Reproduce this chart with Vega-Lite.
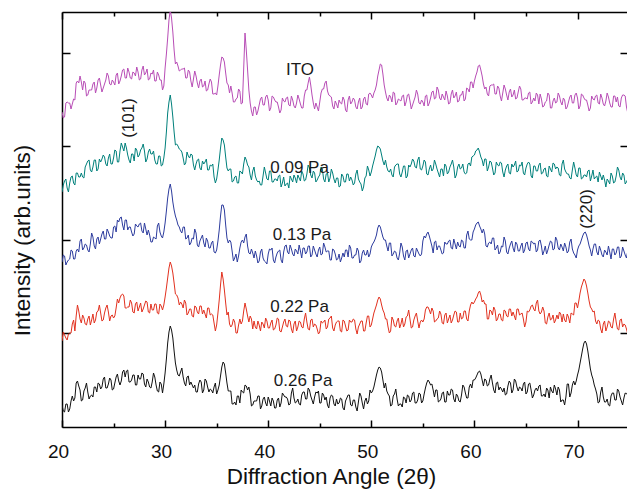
{
"$schema": "https://vega.github.io/schema/vega-lite/v6.json",
"width": 565, "height": 415,
"autosize": {"type": "none"},
"padding": {"left": 62, "top": 12, "right": 0, "bottom": 63},
"config": {"view": {"stroke": null}, "font": "Liberation Sans"},
"datasets": {
"xrd": [
{"x":20,"ITO":316,"p09":236,"p13":166,"p22":87,"p26":23},
{"x":20.125,"ITO":310,"p09":243,"p13":173,"p22":96,"p26":17},
{"x":20.25,"ITO":311,"p09":247,"p13":172,"p22":93,"p26":16},
{"x":20.375,"ITO":325,"p09":249,"p13":163,"p22":90,"p26":24},
{"x":20.5,"ITO":326,"p09":240,"p13":166,"p22":88,"p26":24},
{"x":20.625,"ITO":325,"p09":236,"p13":168,"p22":94,"p26":16},
{"x":20.75,"ITO":325,"p09":245,"p13":169,"p22":95,"p26":19},
{"x":20.875,"ITO":319,"p09":251,"p13":178,"p22":95,"p26":27},
{"x":21,"ITO":324,"p09":252,"p13":177,"p22":104,"p26":32},
{"x":21.125,"ITO":329,"p09":245,"p13":169,"p22":108,"p26":27},
{"x":21.25,"ITO":328,"p09":243,"p13":169,"p22":97,"p26":30},
{"x":21.375,"ITO":345,"p09":255,"p13":177,"p22":112,"p26":45},
{"x":21.5,"ITO":347,"p09":255,"p13":179,"p22":123,"p26":47},
{"x":21.625,"ITO":345,"p09":251,"p13":176,"p22":117,"p26":42},
{"x":21.75,"ITO":352,"p09":251,"p13":187,"p22":109,"p26":38},
{"x":21.875,"ITO":346,"p09":255,"p13":189,"p22":105,"p26":27},
{"x":22,"ITO":338,"p09":251,"p13":178,"p22":113,"p26":28},
{"x":22.125,"ITO":347,"p09":250,"p13":180,"p22":110,"p26":37},
{"x":22.25,"ITO":345,"p09":261,"p13":184,"p22":104,"p26":40},
{"x":22.375,"ITO":332,"p09":264,"p13":183,"p22":103,"p26":45},
{"x":22.5,"ITO":333,"p09":267,"p13":178,"p22":109,"p26":36},
{"x":22.625,"ITO":338,"p09":268,"p13":176,"p22":112,"p26":29},
{"x":22.75,"ITO":338,"p09":258,"p13":184,"p22":103,"p26":32},
{"x":22.875,"ITO":338,"p09":256,"p13":195,"p22":108,"p26":33},
{"x":23,"ITO":344,"p09":261,"p13":191,"p22":114,"p26":31},
{"x":23.125,"ITO":346,"p09":268,"p13":182,"p22":105,"p26":41},
{"x":23.25,"ITO":335,"p09":268,"p13":179,"p22":108,"p26":41},
{"x":23.375,"ITO":340,"p09":257,"p13":189,"p22":116,"p26":36},
{"x":23.5,"ITO":348,"p09":259,"p13":191,"p22":117,"p26":45},
{"x":23.625,"ITO":350,"p09":269,"p13":184,"p22":123,"p26":44},
{"x":23.75,"ITO":343,"p09":266,"p13":189,"p22":115,"p26":39},
{"x":23.875,"ITO":336,"p09":269,"p13":194,"p22":107,"p26":41},
{"x":24,"ITO":340,"p09":273,"p13":197,"p22":108,"p26":49},
{"x":24.125,"ITO":344,"p09":271,"p13":189,"p22":115,"p26":51},
{"x":24.25,"ITO":348,"p09":264,"p13":189,"p22":120,"p26":40},
{"x":24.375,"ITO":355,"p09":262,"p13":199,"p22":123,"p26":40},
{"x":24.5,"ITO":352,"p09":270,"p13":196,"p22":116,"p26":44},
{"x":24.625,"ITO":344,"p09":274,"p13":192,"p22":107,"p26":50},
{"x":24.75,"ITO":343,"p09":264,"p13":190,"p22":112,"p26":48},
{"x":24.875,"ITO":348,"p09":264,"p13":190,"p22":113,"p26":38},
{"x":25,"ITO":346,"p09":270,"p13":201,"p22":110,"p26":39},
{"x":25.125,"ITO":343,"p09":278,"p13":202,"p22":112,"p26":45},
{"x":25.25,"ITO":353,"p09":277,"p13":196,"p22":120,"p26":51},
{"x":25.375,"ITO":355,"p09":266,"p13":208,"p22":129,"p26":54},
{"x":25.5,"ITO":344,"p09":266,"p13":206,"p22":125,"p26":47},
{"x":25.625,"ITO":347,"p09":277,"p13":210,"p22":130,"p26":43},
{"x":25.75,"ITO":352,"p09":285,"p13":211,"p22":133,"p26":47},
{"x":25.875,"ITO":358,"p09":281,"p13":203,"p22":134,"p26":56},
{"x":26,"ITO":359,"p09":277,"p13":198,"p22":132,"p26":58},
{"x":26.125,"ITO":350,"p09":285,"p13":208,"p22":120,"p26":51},
{"x":26.25,"ITO":350,"p09":280,"p13":208,"p22":120,"p26":57},
{"x":26.375,"ITO":360,"p09":273,"p13":198,"p22":121,"p26":58},
{"x":26.5,"ITO":356,"p09":268,"p13":201,"p22":121,"p26":46},
{"x":26.625,"ITO":350,"p09":265,"p13":201,"p22":128,"p26":46},
{"x":26.75,"ITO":349,"p09":274,"p13":196,"p22":125,"p26":48},
{"x":26.875,"ITO":356,"p09":274,"p13":192,"p22":116,"p26":53},
{"x":27,"ITO":355,"p09":267,"p13":194,"p22":115,"p26":53},
{"x":27.125,"ITO":352,"p09":280,"p13":204,"p22":124,"p26":43},
{"x":27.25,"ITO":361,"p09":278,"p13":202,"p22":126,"p26":43},
{"x":27.375,"ITO":356,"p09":271,"p13":201,"p22":117,"p26":53},
{"x":27.5,"ITO":348,"p09":273,"p13":204,"p22":121,"p26":49},
{"x":27.625,"ITO":349,"p09":278,"p13":205,"p22":125,"p26":49},
{"x":27.75,"ITO":358,"p09":280,"p13":197,"p22":116,"p26":55},
{"x":27.875,"ITO":362,"p09":284,"p13":195,"p22":119,"p26":54},
{"x":28,"ITO":353,"p09":277,"p13":205,"p22":123,"p26":44},
{"x":28.125,"ITO":355,"p09":266,"p13":199,"p22":127,"p26":41},
{"x":28.25,"ITO":359,"p09":269,"p13":193,"p22":126,"p26":49},
{"x":28.375,"ITO":348,"p09":276,"p13":198,"p22":116,"p26":46},
{"x":28.5,"ITO":349,"p09":279,"p13":193,"p22":115,"p26":41},
{"x":28.625,"ITO":355,"p09":274,"p13":186,"p22":124,"p26":40},
{"x":28.75,"ITO":354,"p09":274,"p13":186,"p22":118,"p26":46},
{"x":28.875,"ITO":358,"p09":277,"p13":191,"p22":118,"p26":55},
{"x":29,"ITO":347,"p09":268,"p13":190,"p22":124,"p26":51},
{"x":29.125,"ITO":347,"p09":264,"p13":189,"p22":124,"p26":43},
{"x":29.25,"ITO":356,"p09":264,"p13":202,"p22":115,"p26":37},
{"x":29.375,"ITO":353,"p09":272,"p13":205,"p22":114,"p26":36},
{"x":29.5,"ITO":348,"p09":272,"p13":196,"p22":124,"p26":46},
{"x":29.625,"ITO":348,"p09":262,"p13":192,"p22":122,"p26":44},
{"x":29.75,"ITO":338,"p09":263,"p13":190,"p22":118,"p26":35},
{"x":29.875,"ITO":342,"p09":270,"p13":196,"p22":123,"p26":44},
{"x":30,"ITO":360,"p09":280,"p13":205,"p22":131,"p26":55},
{"x":30.125,"ITO":374,"p09":296,"p13":217,"p22":140,"p26":69},
{"x":30.25,"ITO":390,"p09":315,"p13":230,"p22":150,"p26":85},
{"x":30.375,"ITO":408,"p09":326,"p13":239,"p22":160,"p26":96},
{"x":30.5,"ITO":418,"p09":333,"p13":244,"p22":166,"p26":102},
{"x":30.625,"ITO":410,"p09":324,"p13":237,"p22":162,"p26":98},
{"x":30.75,"ITO":396,"p09":311,"p13":226,"p22":155,"p26":90},
{"x":30.875,"ITO":378,"p09":296,"p13":218,"p22":145,"p26":77},
{"x":31,"ITO":364,"p09":283,"p13":212,"p22":134,"p26":65},
{"x":31.125,"ITO":366,"p09":284,"p13":208,"p22":133,"p26":58},
{"x":31.25,"ITO":362,"p09":282,"p13":203,"p22":130,"p26":53},
{"x":31.375,"ITO":357,"p09":279,"p13":201,"p22":123,"p26":52},
{"x":31.5,"ITO":358,"p09":278,"p13":197,"p22":126,"p26":56},
{"x":31.625,"ITO":359,"p09":276,"p13":195,"p22":124,"p26":60},
{"x":31.75,"ITO":359,"p09":270,"p13":201,"p22":120,"p26":51},
{"x":31.875,"ITO":360,"p09":263,"p13":201,"p22":128,"p26":45},
{"x":32,"ITO":350,"p09":265,"p13":189,"p22":125,"p26":42},
{"x":32.125,"ITO":350,"p09":276,"p13":190,"p22":113,"p26":51},
{"x":32.25,"ITO":358,"p09":272,"p13":193,"p22":115,"p26":52},
{"x":32.375,"ITO":356,"p09":270,"p13":183,"p22":119,"p26":43},
{"x":32.5,"ITO":347,"p09":274,"p13":185,"p22":119,"p26":46},
{"x":32.625,"ITO":341,"p09":273,"p13":190,"p22":112,"p26":43},
{"x":32.75,"ITO":349,"p09":263,"p13":189,"p22":111,"p26":40},
{"x":32.875,"ITO":357,"p09":258,"p13":199,"p22":122,"p26":43},
{"x":33,"ITO":352,"p09":264,"p13":195,"p22":121,"p26":36},
{"x":33.125,"ITO":345,"p09":268,"p13":183,"p22":116,"p26":36},
{"x":33.25,"ITO":340,"p09":269,"p13":181,"p22":114,"p26":44},
{"x":33.375,"ITO":347,"p09":260,"p13":187,"p22":122,"p26":48},
{"x":33.5,"ITO":349,"p09":258,"p13":190,"p22":122,"p26":46},
{"x":33.625,"ITO":341,"p09":267,"p13":193,"p22":114,"p26":35},
{"x":33.75,"ITO":342,"p09":264,"p13":185,"p22":118,"p26":38},
{"x":33.875,"ITO":347,"p09":266,"p13":181,"p22":114,"p26":49},
{"x":34,"ITO":337,"p09":269,"p13":190,"p22":110,"p26":47},
{"x":34.125,"ITO":338,"p09":258,"p13":187,"p22":120,"p26":41},
{"x":34.25,"ITO":344,"p09":258,"p13":180,"p22":120,"p26":36},
{"x":34.375,"ITO":349,"p09":263,"p13":180,"p22":113,"p26":39},
{"x":34.5,"ITO":346,"p09":262,"p13":185,"p22":114,"p26":38},
{"x":34.625,"ITO":334,"p09":264,"p13":187,"p22":113,"p26":35},
{"x":34.75,"ITO":334,"p09":251,"p13":176,"p22":105,"p26":41},
{"x":34.875,"ITO":335,"p09":245,"p13":175,"p22":97,"p26":45},
{"x":35,"ITO":333,"p09":249,"p13":178,"p22":103,"p26":34},
{"x":35.125,"ITO":342,"p09":258,"p13":187,"p22":115,"p26":38},
{"x":35.25,"ITO":353,"p09":268,"p13":198,"p22":128,"p26":43},
{"x":35.375,"ITO":363,"p09":280,"p13":212,"p22":143,"p26":52},
{"x":35.5,"ITO":371,"p09":290,"p13":223,"p22":156,"p26":61},
{"x":35.625,"ITO":370,"p09":288,"p13":223,"p22":149,"p26":66},
{"x":35.75,"ITO":366,"p09":283,"p13":218,"p22":138,"p26":64},
{"x":35.875,"ITO":355,"p09":271,"p13":203,"p22":125,"p26":55},
{"x":36,"ITO":345,"p09":260,"p13":190,"p22":113,"p26":45},
{"x":36.125,"ITO":343,"p09":257,"p13":185,"p22":116,"p26":37},
{"x":36.25,"ITO":335,"p09":259,"p13":188,"p22":104,"p26":37},
{"x":36.375,"ITO":342,"p09":259,"p13":186,"p22":101,"p26":37},
{"x":36.5,"ITO":335,"p09":246,"p13":177,"p22":103,"p26":24},
{"x":36.625,"ITO":326,"p09":247,"p13":167,"p22":109,"p26":24},
{"x":36.75,"ITO":326,"p09":251,"p13":170,"p22":106,"p26":26},
{"x":36.875,"ITO":329,"p09":252,"p13":174,"p22":95,"p26":23},
{"x":37,"ITO":330,"p09":245,"p13":166,"p22":95,"p26":32},
{"x":37.125,"ITO":339,"p09":245,"p13":172,"p22":103,"p26":32},
{"x":37.25,"ITO":337,"p09":257,"p13":180,"p22":109,"p26":25},
{"x":37.375,"ITO":324,"p09":256,"p13":186,"p22":104,"p26":38},
{"x":37.5,"ITO":325,"p09":254,"p13":188,"p22":107,"p26":36},
{"x":37.625,"ITO":360,"p09":264,"p13":185,"p22":117,"p26":35},
{"x":37.75,"ITO":395,"p09":271,"p13":191,"p22":125,"p26":43},
{"x":37.875,"ITO":378,"p09":268,"p13":194,"p22":119,"p26":42},
{"x":38,"ITO":358,"p09":263,"p13":182,"p22":112,"p26":38},
{"x":38.125,"ITO":338,"p09":261,"p13":175,"p22":106,"p26":41},
{"x":38.25,"ITO":325,"p09":253,"p13":174,"p22":112,"p26":34},
{"x":38.375,"ITO":317,"p09":248,"p13":179,"p22":109,"p26":22},
{"x":38.5,"ITO":312,"p09":257,"p13":175,"p22":99,"p26":23},
{"x":38.625,"ITO":321,"p09":261,"p13":170,"p22":107,"p26":27},
{"x":38.75,"ITO":321,"p09":252,"p13":177,"p22":101,"p26":27},
{"x":38.875,"ITO":313,"p09":248,"p13":172,"p22":99,"p26":27},
{"x":39,"ITO":317,"p09":246,"p13":165,"p22":107,"p26":32},
{"x":39.125,"ITO":323,"p09":247,"p13":167,"p22":103,"p26":32},
{"x":39.25,"ITO":329,"p09":243,"p13":176,"p22":97,"p26":19},
{"x":39.375,"ITO":331,"p09":243,"p13":179,"p22":106,"p26":22},
{"x":39.5,"ITO":323,"p09":252,"p13":170,"p22":104,"p26":29},
{"x":39.625,"ITO":323,"p09":261,"p13":167,"p22":100,"p26":31},
{"x":39.75,"ITO":331,"p09":255,"p13":166,"p22":110,"p26":25},
{"x":39.875,"ITO":333,"p09":249,"p13":164,"p22":107,"p26":22},
{"x":40,"ITO":328,"p09":248,"p13":174,"p22":100,"p26":31},
{"x":40.125,"ITO":317,"p09":257,"p13":179,"p22":100,"p26":27},
{"x":40.25,"ITO":320,"p09":257,"p13":178,"p22":105,"p26":22},
{"x":40.375,"ITO":332,"p09":246,"p13":180,"p22":108,"p26":30},
{"x":40.5,"ITO":331,"p09":246,"p13":168,"p22":98,"p26":27},
{"x":40.625,"ITO":328,"p09":249,"p13":165,"p22":99,"p26":20},
{"x":40.75,"ITO":326,"p09":249,"p13":171,"p22":103,"p26":20},
{"x":40.875,"ITO":326,"p09":247,"p13":175,"p22":110,"p26":28},
{"x":41,"ITO":321,"p09":252,"p13":177,"p22":109,"p26":30},
{"x":41.125,"ITO":315,"p09":253,"p13":178,"p22":97,"p26":21},
{"x":41.25,"ITO":318,"p09":241,"p13":168,"p22":96,"p26":25},
{"x":41.375,"ITO":330,"p09":245,"p13":165,"p22":101,"p26":35},
{"x":41.5,"ITO":327,"p09":251,"p13":176,"p22":106,"p26":33},
{"x":41.625,"ITO":326,"p09":242,"p13":182,"p22":109,"p26":31},
{"x":41.75,"ITO":330,"p09":244,"p13":183,"p22":102,"p26":31},
{"x":41.875,"ITO":331,"p09":245,"p13":176,"p22":101,"p26":29},
{"x":42,"ITO":323,"p09":240,"p13":174,"p22":108,"p26":23},
{"x":42.125,"ITO":322,"p09":252,"p13":183,"p22":107,"p26":24},
{"x":42.25,"ITO":332,"p09":249,"p13":179,"p22":99,"p26":35},
{"x":42.375,"ITO":328,"p09":246,"p13":174,"p22":95,"p26":40},
{"x":42.5,"ITO":322,"p09":253,"p13":172,"p22":104,"p26":30},
{"x":42.625,"ITO":320,"p09":250,"p13":179,"p22":107,"p26":25},
{"x":42.75,"ITO":325,"p09":245,"p13":177,"p22":97,"p26":26},
{"x":42.875,"ITO":333,"p09":253,"p13":174,"p22":101,"p26":29},
{"x":43,"ITO":329,"p09":250,"p13":183,"p22":107,"p26":24},
{"x":43.125,"ITO":324,"p09":247,"p13":177,"p22":106,"p26":23},
{"x":43.25,"ITO":320,"p09":257,"p13":170,"p22":101,"p26":33},
{"x":43.375,"ITO":320,"p09":254,"p13":180,"p22":100,"p26":36},
{"x":43.5,"ITO":332,"p09":247,"p13":180,"p22":109,"p26":36},
{"x":43.625,"ITO":338,"p09":248,"p13":174,"p22":115,"p26":29},
{"x":43.75,"ITO":338,"p09":254,"p13":176,"p22":106,"p26":29},
{"x":43.875,"ITO":345,"p09":263,"p13":182,"p22":99,"p26":40},
{"x":44,"ITO":351,"p09":260,"p13":182,"p22":98,"p26":38},
{"x":44.125,"ITO":343,"p09":253,"p13":171,"p22":108,"p26":32},
{"x":44.25,"ITO":333,"p09":250,"p13":173,"p22":109,"p26":28},
{"x":44.375,"ITO":325,"p09":257,"p13":182,"p22":101,"p26":24},
{"x":44.5,"ITO":319,"p09":255,"p13":178,"p22":104,"p26":31},
{"x":44.625,"ITO":325,"p09":246,"p13":174,"p22":103,"p26":36},
{"x":44.75,"ITO":321,"p09":248,"p13":171,"p22":99,"p26":35},
{"x":44.875,"ITO":317,"p09":251,"p13":178,"p22":94,"p26":37},
{"x":45,"ITO":326,"p09":253,"p13":181,"p22":96,"p26":25},
{"x":45.125,"ITO":335,"p09":261,"p13":173,"p22":107,"p26":25},
{"x":45.25,"ITO":339,"p09":259,"p13":174,"p22":105,"p26":35},
{"x":45.375,"ITO":339,"p09":249,"p13":185,"p22":106,"p26":33},
{"x":45.5,"ITO":345,"p09":246,"p13":181,"p22":108,"p26":28},
{"x":45.625,"ITO":347,"p09":254,"p13":176,"p22":99,"p26":31},
{"x":45.75,"ITO":337,"p09":255,"p13":177,"p22":101,"p26":23},
{"x":45.875,"ITO":333,"p09":246,"p13":177,"p22":109,"p26":20},
{"x":46,"ITO":332,"p09":250,"p13":168,"p22":110,"p26":30},
{"x":46.125,"ITO":331,"p09":259,"p13":168,"p22":112,"p26":33},
{"x":46.25,"ITO":322,"p09":255,"p13":179,"p22":100,"p26":32},
{"x":46.375,"ITO":319,"p09":249,"p13":178,"p22":97,"p26":24},
{"x":46.5,"ITO":327,"p09":245,"p13":174,"p22":103,"p26":22},
{"x":46.625,"ITO":324,"p09":250,"p13":168,"p22":106,"p26":29},
{"x":46.75,"ITO":320,"p09":250,"p13":169,"p22":107,"p26":24},
{"x":46.875,"ITO":328,"p09":241,"p13":174,"p22":107,"p26":25},
{"x":47,"ITO":325,"p09":242,"p13":166,"p22":97,"p26":30},
{"x":47.125,"ITO":324,"p09":254,"p13":170,"p22":96,"p26":29},
{"x":47.25,"ITO":331,"p09":252,"p13":175,"p22":108,"p26":20},
{"x":47.375,"ITO":328,"p09":246,"p13":171,"p22":107,"p26":18},
{"x":47.5,"ITO":318,"p09":246,"p13":178,"p22":102,"p26":27},
{"x":47.625,"ITO":316,"p09":254,"p13":178,"p22":97,"p26":30},
{"x":47.75,"ITO":328,"p09":254,"p13":171,"p22":98,"p26":33},
{"x":47.875,"ITO":332,"p09":247,"p13":183,"p22":108,"p26":33},
{"x":48,"ITO":324,"p09":251,"p13":180,"p22":106,"p26":23},
{"x":48.125,"ITO":326,"p09":248,"p13":170,"p22":106,"p26":22},
{"x":48.25,"ITO":330,"p09":243,"p13":170,"p22":109,"p26":28},
{"x":48.375,"ITO":328,"p09":245,"p13":173,"p22":108,"p26":28},
{"x":48.5,"ITO":321,"p09":254,"p13":173,"p22":99,"p26":21},
{"x":48.625,"ITO":319,"p09":258,"p13":180,"p22":94,"p26":17},
{"x":48.75,"ITO":326,"p09":249,"p13":177,"p22":101,"p26":26},
{"x":48.875,"ITO":330,"p09":246,"p13":165,"p22":104,"p26":35},
{"x":49,"ITO":319,"p09":244,"p13":167,"p22":107,"p26":32},
{"x":49.125,"ITO":321,"p09":237,"p13":175,"p22":107,"p26":25},
{"x":49.25,"ITO":329,"p09":241,"p13":178,"p22":97,"p26":19},
{"x":49.375,"ITO":331,"p09":250,"p13":173,"p22":97,"p26":27},
{"x":49.5,"ITO":324,"p09":252,"p13":173,"p22":105,"p26":30},
{"x":49.625,"ITO":323,"p09":262,"p13":178,"p22":112,"p26":24},
{"x":49.75,"ITO":334,"p09":258,"p13":171,"p22":112,"p26":27},
{"x":49.875,"ITO":335,"p09":252,"p13":174,"p22":101,"p26":38},
{"x":50,"ITO":333,"p09":256,"p13":181,"p22":103,"p26":35},
{"x":50.125,"ITO":330,"p09":262,"p13":184,"p22":109,"p26":37},
{"x":50.25,"ITO":335,"p09":267,"p13":186,"p22":115,"p26":41},
{"x":50.375,"ITO":338,"p09":272,"p13":189,"p22":119,"p26":47},
{"x":50.5,"ITO":343,"p09":278,"p13":193,"p22":123,"p26":53},
{"x":50.625,"ITO":352,"p09":282,"p13":200,"p22":128,"p26":58},
{"x":50.75,"ITO":358,"p09":281,"p13":203,"p22":131,"p26":61},
{"x":50.875,"ITO":364,"p09":279,"p13":201,"p22":129,"p26":60},
{"x":51,"ITO":363,"p09":273,"p13":196,"p22":123,"p26":56},
{"x":51.125,"ITO":354,"p09":267,"p13":191,"p22":118,"p26":48},
{"x":51.25,"ITO":343,"p09":263,"p13":188,"p22":115,"p26":40},
{"x":51.375,"ITO":336,"p09":268,"p13":188,"p22":109,"p26":45},
{"x":51.5,"ITO":330,"p09":261,"p13":182,"p22":109,"p26":37},
{"x":51.625,"ITO":327,"p09":257,"p13":177,"p22":101,"p26":34},
{"x":51.75,"ITO":333,"p09":256,"p13":185,"p22":95,"p26":32},
{"x":51.875,"ITO":331,"p09":259,"p13":185,"p22":97,"p26":22},
{"x":52,"ITO":326,"p09":253,"p13":172,"p22":111,"p26":23},
{"x":52.125,"ITO":336,"p09":251,"p13":174,"p22":108,"p26":32},
{"x":52.25,"ITO":335,"p09":261,"p13":177,"p22":102,"p26":34},
{"x":52.375,"ITO":323,"p09":263,"p13":176,"p22":101,"p26":39},
{"x":52.5,"ITO":325,"p09":264,"p13":170,"p22":107,"p26":29},
{"x":52.625,"ITO":329,"p09":264,"p13":168,"p22":110,"p26":22},
{"x":52.75,"ITO":328,"p09":254,"p13":175,"p22":100,"p26":24},
{"x":52.875,"ITO":327,"p09":251,"p13":185,"p22":104,"p26":24},
{"x":53,"ITO":332,"p09":256,"p13":181,"p22":110,"p26":21},
{"x":53.125,"ITO":333,"p09":262,"p13":172,"p22":101,"p26":31},
{"x":53.25,"ITO":322,"p09":262,"p13":168,"p22":104,"p26":30},
{"x":53.375,"ITO":326,"p09":250,"p13":177,"p22":111,"p26":25},
{"x":53.5,"ITO":333,"p09":252,"p13":178,"p22":112,"p26":33},
{"x":53.625,"ITO":334,"p09":263,"p13":170,"p22":118,"p26":32},
{"x":53.75,"ITO":327,"p09":261,"p13":174,"p22":109,"p26":26},
{"x":53.875,"ITO":319,"p09":264,"p13":178,"p22":100,"p26":28},
{"x":54,"ITO":323,"p09":269,"p13":180,"p22":101,"p26":35},
{"x":54.125,"ITO":327,"p09":267,"p13":172,"p22":108,"p26":36},
{"x":54.25,"ITO":331,"p09":261,"p13":171,"p22":112,"p26":25},
{"x":54.375,"ITO":338,"p09":260,"p13":180,"p22":115,"p26":25},
{"x":54.5,"ITO":334,"p09":268,"p13":177,"p22":107,"p26":28},
{"x":54.625,"ITO":325,"p09":271,"p13":174,"p22":100,"p26":35},
{"x":54.75,"ITO":324,"p09":259,"p13":172,"p22":106,"p26":34},
{"x":54.875,"ITO":328,"p09":258,"p13":174,"p22":108,"p26":25},
{"x":55,"ITO":326,"p09":262,"p13":187,"p22":106,"p26":27},
{"x":55.125,"ITO":322,"p09":268,"p13":192,"p22":109,"p26":34},
{"x":55.25,"ITO":332,"p09":266,"p13":190,"p22":118,"p26":40},
{"x":55.375,"ITO":333,"p09":254,"p13":194,"p22":121,"p26":45},
{"x":55.5,"ITO":322,"p09":253,"p13":196,"p22":121,"p26":48},
{"x":55.625,"ITO":325,"p09":259,"p13":192,"p22":118,"p26":46},
{"x":55.75,"ITO":330,"p09":263,"p13":187,"p22":114,"p26":43},
{"x":55.875,"ITO":336,"p09":257,"p13":182,"p22":120,"p26":44},
{"x":56,"ITO":337,"p09":259,"p13":175,"p22":117,"p26":38},
{"x":56.125,"ITO":329,"p09":268,"p13":186,"p22":106,"p26":31},
{"x":56.25,"ITO":330,"p09":264,"p13":187,"p22":107,"p26":38},
{"x":56.375,"ITO":341,"p09":259,"p13":178,"p22":109,"p26":38},
{"x":56.5,"ITO":338,"p09":255,"p13":182,"p22":110,"p26":26},
{"x":56.625,"ITO":330,"p09":251,"p13":182,"p22":117,"p26":27},
{"x":56.75,"ITO":328,"p09":259,"p13":178,"p22":114,"p26":29},
{"x":56.875,"ITO":334,"p09":259,"p13":174,"p22":105,"p26":35},
{"x":57,"ITO":331,"p09":252,"p13":175,"p22":104,"p26":36},
{"x":57.125,"ITO":328,"p09":264,"p13":186,"p22":113,"p26":26},
{"x":57.25,"ITO":337,"p09":262,"p13":184,"p22":115,"p26":26},
{"x":57.375,"ITO":332,"p09":254,"p13":184,"p22":105,"p26":37},
{"x":57.5,"ITO":324,"p09":256,"p13":187,"p22":109,"p26":33},
{"x":57.625,"ITO":325,"p09":261,"p13":188,"p22":113,"p26":33},
{"x":57.75,"ITO":334,"p09":264,"p13":180,"p22":105,"p26":39},
{"x":57.875,"ITO":338,"p09":268,"p13":179,"p22":108,"p26":38},
{"x":58,"ITO":330,"p09":261,"p13":189,"p22":113,"p26":29},
{"x":58.125,"ITO":332,"p09":250,"p13":184,"p22":117,"p26":26},
{"x":58.25,"ITO":336,"p09":253,"p13":179,"p22":116,"p26":34},
{"x":58.375,"ITO":326,"p09":261,"p13":186,"p22":106,"p26":32},
{"x":58.5,"ITO":327,"p09":264,"p13":182,"p22":106,"p26":27},
{"x":58.625,"ITO":333,"p09":259,"p13":181,"p22":115,"p26":26},
{"x":58.75,"ITO":333,"p09":260,"p13":188,"p22":109,"p26":33},
{"x":58.875,"ITO":337,"p09":264,"p13":187,"p22":110,"p26":43},
{"x":59,"ITO":327,"p09":256,"p13":180,"p22":117,"p26":41},
{"x":59.125,"ITO":329,"p09":254,"p13":180,"p22":117,"p26":35},
{"x":59.25,"ITO":340,"p09":255,"p13":193,"p22":109,"p26":30},
{"x":59.375,"ITO":339,"p09":264,"p13":197,"p22":107,"p26":30},
{"x":59.5,"ITO":336,"p09":265,"p13":189,"p22":117,"p26":41},
{"x":59.625,"ITO":346,"p09":262,"p13":188,"p22":123,"p26":44},
{"x":59.75,"ITO":346,"p09":271,"p13":188,"p22":126,"p26":40},
{"x":59.875,"ITO":340,"p09":272,"p13":196,"p22":124,"p26":48},
{"x":60,"ITO":347,"p09":273,"p13":199,"p22":126,"p26":48},
{"x":60.125,"ITO":352,"p09":277,"p13":203,"p22":129,"p26":50},
{"x":60.25,"ITO":356,"p09":278,"p13":205,"p22":131,"p26":53},
{"x":60.375,"ITO":362,"p09":280,"p13":206,"p22":135,"p26":56},
{"x":60.5,"ITO":363,"p09":276,"p13":202,"p22":137,"p26":57},
{"x":60.625,"ITO":358,"p09":271,"p13":199,"p22":133,"p26":54},
{"x":60.75,"ITO":352,"p09":268,"p13":195,"p22":126,"p26":48},
{"x":60.875,"ITO":344,"p09":262,"p13":199,"p22":128,"p26":42},
{"x":61,"ITO":339,"p09":269,"p13":194,"p22":124,"p26":49},
{"x":61.125,"ITO":341,"p09":269,"p13":182,"p22":124,"p26":48},
{"x":61.25,"ITO":334,"p09":257,"p13":181,"p22":109,"p26":42},
{"x":61.375,"ITO":332,"p09":261,"p13":185,"p22":109,"p26":43},
{"x":61.5,"ITO":342,"p09":267,"p13":186,"p22":118,"p26":49},
{"x":61.625,"ITO":343,"p09":266,"p13":184,"p22":117,"p26":53},
{"x":61.75,"ITO":343,"p09":260,"p13":190,"p22":113,"p26":45},
{"x":61.875,"ITO":344,"p09":253,"p13":190,"p22":121,"p26":38},
{"x":62,"ITO":334,"p09":255,"p13":178,"p22":118,"p26":35},
{"x":62.125,"ITO":334,"p09":266,"p13":180,"p22":107,"p26":45},
{"x":62.25,"ITO":342,"p09":263,"p13":183,"p22":109,"p26":46},
{"x":62.375,"ITO":340,"p09":262,"p13":174,"p22":114,"p26":38},
{"x":62.5,"ITO":332,"p09":266,"p13":176,"p22":114,"p26":41},
{"x":62.625,"ITO":327,"p09":265,"p13":182,"p22":108,"p26":39},
{"x":62.75,"ITO":335,"p09":256,"p13":181,"p22":107,"p26":36},
{"x":62.875,"ITO":343,"p09":251,"p13":191,"p22":118,"p26":40},
{"x":63,"ITO":339,"p09":258,"p13":187,"p22":117,"p26":33},
{"x":63.125,"ITO":333,"p09":262,"p13":176,"p22":112,"p26":34},
{"x":63.25,"ITO":328,"p09":264,"p13":174,"p22":111,"p26":42},
{"x":63.375,"ITO":336,"p09":255,"p13":180,"p22":119,"p26":47},
{"x":63.5,"ITO":339,"p09":254,"p13":184,"p22":119,"p26":45},
{"x":63.625,"ITO":331,"p09":264,"p13":187,"p22":112,"p26":35},
{"x":63.75,"ITO":333,"p09":261,"p13":180,"p22":116,"p26":38},
{"x":63.875,"ITO":338,"p09":263,"p13":176,"p22":112,"p26":49},
{"x":64,"ITO":329,"p09":267,"p13":186,"p22":108,"p26":47},
{"x":64.125,"ITO":330,"p09":256,"p13":184,"p22":119,"p26":41},
{"x":64.25,"ITO":336,"p09":257,"p13":177,"p22":119,"p26":37},
{"x":64.375,"ITO":342,"p09":263,"p13":177,"p22":113,"p26":41},
{"x":64.5,"ITO":339,"p09":262,"p13":182,"p22":114,"p26":40},
{"x":64.625,"ITO":328,"p09":266,"p13":185,"p22":115,"p26":37},
{"x":64.75,"ITO":328,"p09":255,"p13":175,"p22":109,"p26":44},
{"x":64.875,"ITO":330,"p09":253,"p13":178,"p22":101,"p26":46},
{"x":65,"ITO":330,"p09":260,"p13":185,"p22":106,"p26":34},
{"x":65.125,"ITO":329,"p09":264,"p13":186,"p22":117,"p26":36},
{"x":65.25,"ITO":335,"p09":266,"p13":179,"p22":116,"p26":44},
{"x":65.375,"ITO":336,"p09":264,"p13":177,"p22":118,"p26":45},
{"x":65.5,"ITO":324,"p09":252,"p13":187,"p22":122,"p26":38},
{"x":65.625,"ITO":326,"p09":250,"p13":186,"p22":123,"p26":30},
{"x":65.75,"ITO":330,"p09":262,"p13":184,"p22":119,"p26":33},
{"x":65.875,"ITO":327,"p09":262,"p13":185,"p22":117,"p26":38},
{"x":66,"ITO":335,"p09":257,"p13":176,"p22":125,"p26":40},
{"x":66.125,"ITO":333,"p09":257,"p13":178,"p22":128,"p26":37},
{"x":66.25,"ITO":324,"p09":263,"p13":187,"p22":117,"p26":42},
{"x":66.375,"ITO":334,"p09":265,"p13":188,"p22":114,"p26":43},
{"x":66.5,"ITO":329,"p09":254,"p13":182,"p22":116,"p26":32},
{"x":66.625,"ITO":321,"p09":255,"p13":173,"p22":121,"p26":32},
{"x":66.75,"ITO":322,"p09":259,"p13":177,"p22":117,"p26":34},
{"x":66.875,"ITO":326,"p09":260,"p13":182,"p22":105,"p26":31},
{"x":67,"ITO":327,"p09":252,"p13":174,"p22":104,"p26":40},
{"x":67.125,"ITO":335,"p09":251,"p13":178,"p22":111,"p26":38},
{"x":67.25,"ITO":333,"p09":262,"p13":183,"p22":115,"p26":30},
{"x":67.375,"ITO":320,"p09":259,"p13":187,"p22":108,"p26":41},
{"x":67.5,"ITO":320,"p09":256,"p13":186,"p22":109,"p26":37},
{"x":67.625,"ITO":327,"p09":265,"p13":178,"p22":113,"p26":35},
{"x":67.75,"ITO":330,"p09":264,"p13":179,"p22":105,"p26":43},
{"x":67.875,"ITO":325,"p09":259,"p13":191,"p22":108,"p26":39},
{"x":68,"ITO":326,"p09":261,"p13":188,"p22":113,"p26":33},
{"x":68.125,"ITO":335,"p09":260,"p13":180,"p22":109,"p26":41},
{"x":68.25,"ITO":332,"p09":253,"p13":178,"p22":116,"p26":38},
{"x":68.375,"ITO":326,"p09":252,"p13":184,"p22":114,"p26":26},
{"x":68.5,"ITO":323,"p09":264,"p13":181,"p22":106,"p26":28},
{"x":68.625,"ITO":330,"p09":268,"p13":177,"p22":114,"p26":28},
{"x":68.75,"ITO":328,"p09":259,"p13":185,"p22":108,"p26":23},
{"x":68.875,"ITO":319,"p09":256,"p13":181,"p22":106,"p26":31},
{"x":69,"ITO":321,"p09":254,"p13":175,"p22":114,"p26":44},
{"x":69.125,"ITO":326,"p09":254,"p13":177,"p22":111,"p26":44},
{"x":69.25,"ITO":331,"p09":250,"p13":186,"p22":105,"p26":31},
{"x":69.375,"ITO":333,"p09":249,"p13":189,"p22":115,"p26":35},
{"x":69.5,"ITO":325,"p09":258,"p13":179,"p22":114,"p26":43},
{"x":69.625,"ITO":325,"p09":266,"p13":175,"p22":113,"p26":47},
{"x":69.75,"ITO":333,"p09":260,"p13":173,"p22":125,"p26":43},
{"x":69.875,"ITO":335,"p09":253,"p13":170,"p22":125,"p26":47},
{"x":70,"ITO":330,"p09":251,"p13":178,"p22":120,"p26":53},
{"x":70.125,"ITO":319,"p09":260,"p13":182,"p22":127,"p26":58},
{"x":70.25,"ITO":322,"p09":260,"p13":184,"p22":135,"p26":65},
{"x":70.375,"ITO":334,"p09":249,"p13":188,"p22":141,"p26":72},
{"x":70.5,"ITO":333,"p09":250,"p13":192,"p22":145,"p26":79},
{"x":70.625,"ITO":330,"p09":253,"p13":195,"p22":149,"p26":85},
{"x":70.75,"ITO":328,"p09":253,"p13":196,"p22":147,"p26":87},
{"x":70.875,"ITO":328,"p09":251,"p13":193,"p22":142,"p26":84},
{"x":71,"ITO":323,"p09":257,"p13":188,"p22":135,"p26":77},
{"x":71.125,"ITO":317,"p09":258,"p13":182,"p22":127,"p26":68},
{"x":71.25,"ITO":320,"p09":247,"p13":178,"p22":121,"p26":59},
{"x":71.375,"ITO":332,"p09":252,"p13":172,"p22":119,"p26":53},
{"x":71.5,"ITO":329,"p09":258,"p13":179,"p22":116,"p26":49},
{"x":71.625,"ITO":328,"p09":249,"p13":184,"p22":117,"p26":43},
{"x":71.75,"ITO":332,"p09":251,"p13":184,"p22":107,"p26":39},
{"x":71.875,"ITO":333,"p09":252,"p13":176,"p22":104,"p26":34},
{"x":72,"ITO":325,"p09":246,"p13":173,"p22":108,"p26":25},
{"x":72.125,"ITO":324,"p09":256,"p13":182,"p22":107,"p26":26},
{"x":72.25,"ITO":334,"p09":252,"p13":178,"p22":99,"p26":36},
{"x":72.375,"ITO":330,"p09":248,"p13":173,"p22":95,"p26":41},
{"x":72.5,"ITO":324,"p09":253,"p13":171,"p22":104,"p26":31},
{"x":72.625,"ITO":322,"p09":248,"p13":178,"p22":107,"p26":26},
{"x":72.75,"ITO":327,"p09":241,"p13":176,"p22":97,"p26":26},
{"x":72.875,"ITO":335,"p09":249,"p13":173,"p22":101,"p26":29},
{"x":73,"ITO":331,"p09":247,"p13":182,"p22":107,"p26":23},
{"x":73.125,"ITO":325,"p09":244,"p13":176,"p22":106,"p26":22},
{"x":73.25,"ITO":321,"p09":255,"p13":169,"p22":101,"p26":32},
{"x":73.375,"ITO":321,"p09":252,"p13":179,"p22":100,"p26":35},
{"x":73.5,"ITO":332,"p09":245,"p13":179,"p22":109,"p26":35},
{"x":73.625,"ITO":332,"p09":246,"p13":173,"p22":115,"p26":28},
{"x":73.75,"ITO":326,"p09":252,"p13":175,"p22":106,"p26":28},
{"x":73.875,"ITO":331,"p09":261,"p13":181,"p22":99,"p26":39},
{"x":74,"ITO":322,"p09":258,"p13":181,"p22":98,"p26":37},
{"x":74.125,"ITO":321,"p09":251,"p13":170,"p22":108,"p26":31},
{"x":74.25,"ITO":330,"p09":248,"p13":172,"p22":109,"p26":27},
{"x":74.375,"ITO":333,"p09":255,"p13":181,"p22":101,"p26":23},
{"x":74.5,"ITO":333,"p09":253,"p13":177,"p22":104,"p26":30},
{"x":74.625,"ITO":332,"p09":244,"p13":173,"p22":103,"p26":35},
{"x":74.75,"ITO":321,"p09":246,"p13":170,"p22":99,"p26":34},
{"x":74.875,"ITO":315,"p09":249,"p13":177,"p22":94,"p26":36},
{"x":75,"ITO":323,"p09":251,"p13":180,"p22":96,"p26":24}
],
"hlabels": [
{"t":"ITO","x":43.09,"y":353},
{"t":"0.09 Pa","x":43.04,"y":255},
{"t":"0.13 Pa","x":43.28,"y":188},
{"t":"0.22 Pa","x":43.04,"y":116},
{"t":"0.26 Pa","x":43.38,"y":42}
],
"vlabels": [
{"t":"(101)","x":26.49,"y":310},
{"t":"(220)","x":70.92,"y":219}
]
},
"layer": [
{
"data": {"name": "xrd"},
"transform": [{"fold": ["ITO", "p09", "p13", "p22", "p26"], "as": ["sample", "h"]}],
"mark": {"type": "line", "strokeWidth": 1, "clip": true},
"encoding": {
"x": {"field": "x", "type": "quantitative",
"scale": {"domain": [20, 74.8], "nice": false, "zero": false},
"axis": {"orient": "bottom", "values": [20, 30, 40, 50, 60, 70], "ticks": false, "grid": false,
"domain": true, "domainColor": "#000", "domainWidth": 1.5,
"labels": true, "labelFontSize": 19, "labelColor": "#111", "labelFont": "Liberation Sans",
"labelBaseline": "alphabetic", "labelPadding": 30, "labelOffset": -4, "labelFlush": false, "labelOverlap": false,
"title": "Diffraction Angle (2θ)", "titleFont": "Liberation Sans", "titleFontSize": 22.5, "titleFontWeight": "normal", "titleColor": "#111",
"titleX": 269, "titleY": 56, "titleAlign": "center", "titleBaseline": "alphabetic"}},
"y": {"field": "h", "type": "quantitative",
"scale": {"domain": [1, 416], "nice": false, "zero": false},
"axis": {"orient": "left", "values": [95, 188, 282, 375], "labels": false, "grid": false,
"ticks": true, "tickSize": -8, "tickWidth": 1.5, "tickColor": "#000",
"domain": true, "domainColor": "#000", "domainWidth": 1.5,
"title": "Intensity (arb.units)", "titleFont": "Liberation Sans", "titleFontSize": 22.5, "titleFontWeight": "normal", "titleColor": "#111",
"titleX": -33, "titleY": 228, "titleAngle": 270, "titleAlign": "center", "titleBaseline": "alphabetic"}},
"color": {"field": "sample", "type": "nominal",
"scale": {"domain": ["ITO", "p09", "p13", "p22", "p26"], "range": ["#b84db6", "#00807b", "#2d3c9e", "#e2311f", "#111111"]},
"legend": null}
}
},
{
"data": {"name": "hlabels"},
"mark": {"type": "text", "font": "Liberation Sans", "fontSize": 17, "align": "center", "baseline": "alphabetic", "color": "#1a1a1a"},
"encoding": {
"x": {"field": "x", "type": "quantitative",
"axis": {"orient": "bottom", "values": [20, 30, 40, 50, 60, 70], "labels": false, "domain": false, "grid": false, "title": null,
"ticks": true, "tickSize": -7, "tickWidth": 1.5, "tickColor": "#000"}},
"y": {"field": "y", "type": "quantitative",
"axis": {"orient": "right", "values": [95, 188, 282, 375], "labels": false, "domain": false, "grid": false, "title": null,
"ticks": true, "tickSize": -7, "tickWidth": 1.5, "tickColor": "#000"}},
"text": {"field": "t"}
}
},
{
"data": {"name": "vlabels"},
"mark": {"type": "text", "font": "Liberation Sans", "fontSize": 17, "align": "center", "baseline": "middle", "angle": 270, "color": "#1a1a1a"},
"encoding": {
"x": {"field": "x", "type": "quantitative",
"axis": {"orient": "bottom", "values": [25, 35, 45, 55, 65], "labels": false, "domain": false, "grid": false, "title": null,
"ticks": true, "tickSize": -4, "tickWidth": 1.5, "tickColor": "#000"}},
"y": {"field": "y", "type": "quantitative", "axis": null},
"text": {"field": "t"}
}
},
{
"data": {"name": "vlabels"},
"mark": {"type": "point", "opacity": 0},
"encoding": {
"x": {"field": "x", "type": "quantitative",
"axis": {"orient": "top", "values": [20, 30, 40, 50, 60, 70], "labels": false, "domain": true, "domainColor": "#000", "domainWidth": 1.5, "grid": false, "title": null,
"ticks": true, "tickSize": -7, "tickWidth": 1.5, "tickColor": "#000"}}
}
},
{
"data": {"name": "vlabels"},
"mark": {"type": "point", "opacity": 0},
"encoding": {
"x": {"field": "x", "type": "quantitative",
"axis": {"orient": "top", "values": [25, 35, 45, 55, 65], "labels": false, "domain": false, "grid": false, "title": null,
"ticks": true, "tickSize": -4, "tickWidth": 1.5, "tickColor": "#000"}}
}
}
],
"resolve": {"axis": {"x": "independent", "y": "independent"}}
}
